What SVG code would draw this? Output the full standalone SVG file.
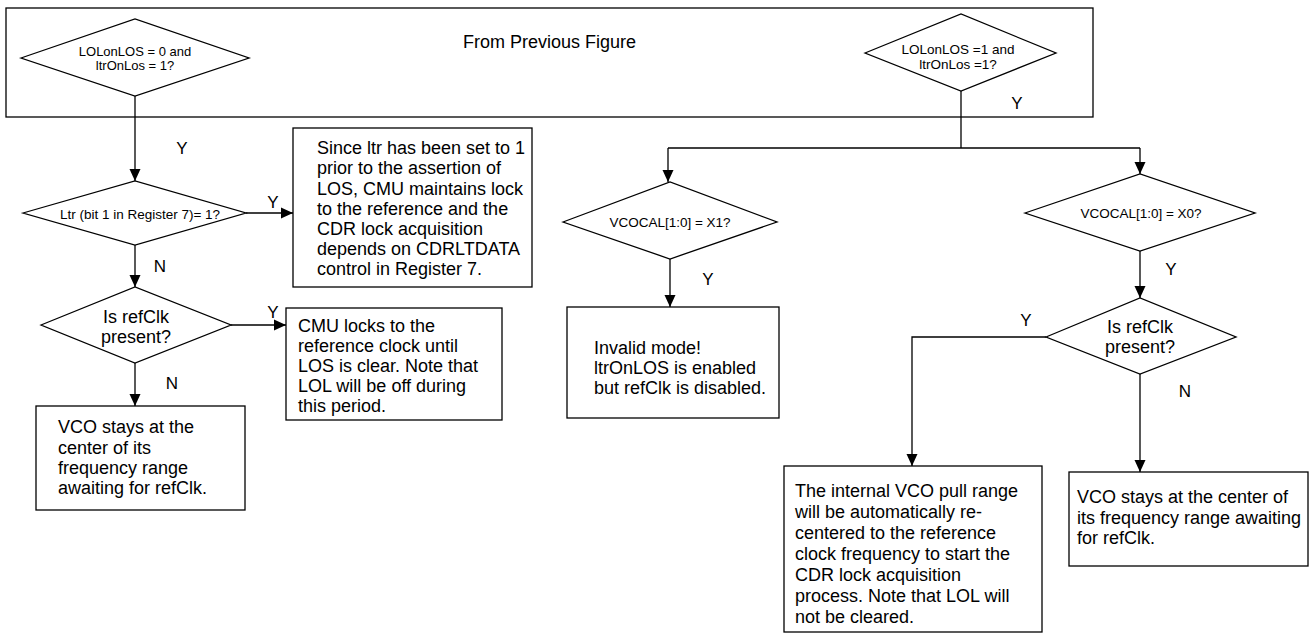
<svg xmlns="http://www.w3.org/2000/svg" width="1312" height="633" viewBox="0 0 1312 633">
<style>
.shape{fill:#fff;stroke:#000;stroke-width:1.3}
.frame{fill:none;stroke:#000;stroke-width:1.3}
.ln{fill:none;stroke:#000;stroke-width:1.3}
.t{font-family:"Liberation Sans",Arial,sans-serif;font-size:18px;fill:#000}
.s{font-family:"Liberation Sans",Arial,sans-serif;font-size:13.5px;fill:#000;text-anchor:middle}
.c{text-anchor:middle}
.lbl{font-family:"Liberation Sans",Arial,sans-serif;font-size:17px;fill:#000;text-anchor:middle}
</style>
<defs>
<marker id="ah" viewBox="0 0 12 12" refX="12" refY="6" markerWidth="12" markerHeight="12" markerUnits="userSpaceOnUse" orient="auto">
<path d="M0,0.5 L12,6 L0,11.5 z" fill="#000"/>
</marker>
</defs>
<rect width="1312" height="633" fill="#fff"/>

<g id="frame">
<rect class="frame" x="6" y="8" width="1087" height="109"/>
<text class="t" x="463" y="48">From Previous Figure</text>
</g>

<g id="connectors">
<line class="ln" x1="135" y1="96" x2="135" y2="181" marker-end="url(#ah)"/>
<line class="ln" x1="246" y1="213" x2="293" y2="213" marker-end="url(#ah)"/>
<line class="ln" x1="135" y1="245" x2="135" y2="287" marker-end="url(#ah)"/>
<line class="ln" x1="231" y1="325" x2="286" y2="325" marker-end="url(#ah)"/>
<line class="ln" x1="135" y1="363" x2="135" y2="406" marker-end="url(#ah)"/>
<polyline class="ln" points="961,91 961,148"/>
<polyline class="ln" points="668,148 1140,148"/>
<line class="ln" x1="668" y1="148" x2="668" y2="182" marker-end="url(#ah)"/>
<line class="ln" x1="1140" y1="148" x2="1140" y2="174" marker-end="url(#ah)"/>
<line class="ln" x1="670" y1="259" x2="670" y2="307" marker-end="url(#ah)"/>
<line class="ln" x1="1140" y1="251" x2="1140" y2="298" marker-end="url(#ah)"/>
<polyline class="ln" points="1046,337 912,337 912,466" marker-end="url(#ah)"/>
<line class="ln" x1="1140" y1="374" x2="1140" y2="472" marker-end="url(#ah)"/>
<text class="lbl" x="182" y="154">Y</text>
<text class="lbl" x="273" y="208">Y</text>
<text class="lbl" x="160" y="272">N</text>
<text class="lbl" x="273" y="318">Y</text>
<text class="lbl" x="172" y="389">N</text>
<text class="lbl" x="1017" y="109">Y</text>
<text class="lbl" x="708" y="285">Y</text>
<text class="lbl" x="1171" y="275">Y</text>
<text class="lbl" x="1026" y="326">Y</text>
<text class="lbl" x="1185" y="397">N</text>
</g>

<g id="d-lolonlos0">
<polygon class="shape" points="21,58 135,19 249,58 135,96"/>
<text class="s" x="135" y="55.5" style="font-size:13px">LOLonLOS = 0 and</text>
<text class="s" x="135" y="69.5" style="font-size:13px">ltrOnLos = 1?</text>
</g>

<g id="d-lolonlos1">
<polygon class="shape" points="865,53 961,14 1056,53 961,91"/>
<text class="s" x="958" y="54">LOLonLOS =1 and</text>
<text class="s" x="958" y="69">ltrOnLos =1?</text>
</g>

<g id="d-ltr">
<polygon class="shape" points="23,213 135,181 246,213 135,245"/>
<text class="s" x="140" y="219">Ltr (bit 1 in Register 7)= 1?</text>
</g>

<g id="b-since">
<rect class="shape" x="293" y="128" width="239" height="159"/>
<text class="t" x="317" y="154">Since ltr has been set to 1</text>
<text class="t" x="317" y="174">prior to the assertion of</text>
<text class="t" x="317" y="194.5">LOS, CMU maintains lock</text>
<text class="t" x="317" y="214.5">to the reference and the</text>
<text class="t" x="317" y="234.5">CDR lock acquisition</text>
<text class="t" x="317" y="254.5">depends on CDRLTDATA</text>
<text class="t" x="317" y="274.5">control in Register 7.</text>
</g>

<g id="d-refclk-left">
<polygon class="shape" points="41,325 135,287 231,325 135,363"/>
<text class="t c" x="136" y="322.5">Is refClk</text>
<text class="t c" x="136" y="343">present?</text>
</g>

<g id="b-cmu">
<rect class="shape" x="286" y="308" width="216" height="112"/>
<text class="t" x="298" y="332">CMU locks to the</text>
<text class="t" x="298" y="352">reference clock until</text>
<text class="t" x="298" y="372">LOS is clear. Note that</text>
<text class="t" x="298" y="392">LOL will be off during</text>
<text class="t" x="298" y="412">this period.</text>
</g>

<g id="b-vco-left">
<rect class="shape" x="36" y="406" width="209" height="104"/>
<text class="t" x="58" y="433">VCO stays at the</text>
<text class="t" x="58" y="453.5">center of its</text>
<text class="t" x="58" y="473.5">frequency range</text>
<text class="t" x="58" y="493.5">awaiting for refClk.</text>
</g>

<g id="d-vcocal-x1">
<polygon class="shape" points="563,222 670,182 777,222 670,259"/>
<text class="s" x="670" y="226.5">VCOCAL[1:0] = X1?</text>
</g>

<g id="b-invalid">
<rect class="shape" x="567" y="307" width="212" height="111"/>
<text class="t" x="594" y="354">Invalid mode!</text>
<text class="t" x="594" y="374">ltrOnLOS is enabled</text>
<text class="t" x="594" y="394">but refClk is disabled.</text>
</g>

<g id="d-vcocal-x0">
<polygon class="shape" points="1025,213 1140,174 1255,213 1140,251"/>
<text class="s" x="1141" y="218">VCOCAL[1:0] = X0?</text>
</g>

<g id="d-refclk-right">
<polygon class="shape" points="1046,337 1140,298 1236,337 1140,374"/>
<text class="t c" x="1140" y="333">Is refClk</text>
<text class="t c" x="1140" y="353">present?</text>
</g>

<g id="b-recenter">
<rect class="shape" x="784" y="466" width="258" height="166"/>
<text class="t" x="795" y="497">The internal VCO pull range</text>
<text class="t" x="795" y="518">will be automatically re-</text>
<text class="t" x="795" y="539">centered to the reference</text>
<text class="t" x="795" y="560">clock frequency to start the</text>
<text class="t" x="795" y="581">CDR lock acquisition</text>
<text class="t" x="795" y="602">process. Note that LOL will</text>
<text class="t" x="795" y="623">not be cleared.</text>
</g>

<g id="b-vco-right">
<rect class="shape" x="1069" y="472" width="239" height="94"/>
<text class="t" x="1077" y="503">VCO stays at the center of</text>
<text class="t" x="1077" y="523.5">its frequency range awaiting</text>
<text class="t" x="1077" y="544">for refClk.</text>
</g>
</svg>
